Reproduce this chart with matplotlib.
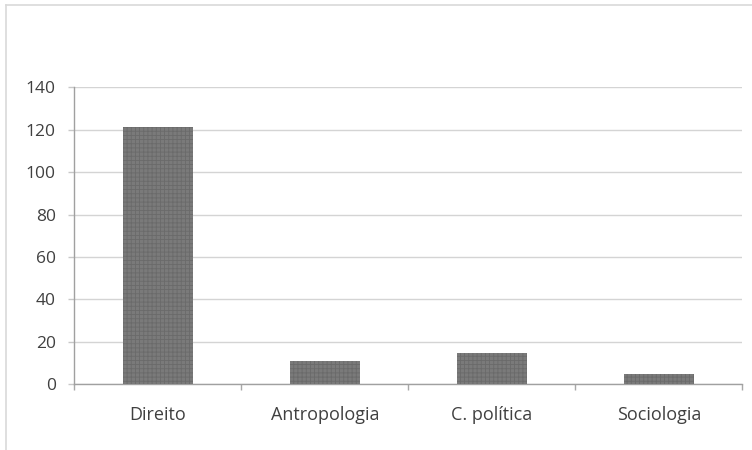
import matplotlib
matplotlib.use("Agg")
import matplotlib.pyplot as plt
from matplotlib.lines import Line2D

categories = ["Direito", "Antropologia", "C. política", "Sociologia"]
values = [121, 11, 15, 5]
yticks = [0, 20, 40, 60, 80, 100, 120, 140]

plt.rcParams["font.family"] = ["Open Sans", "DejaVu Sans"]
plt.rcParams["hatch.color"] = "#5c5c5c"
plt.rcParams["hatch.linewidth"] = 0.6

fig = plt.figure(figsize=(7.52, 4.5), dpi=100)
ax = fig.add_axes([0.099, 0.1456, 0.888, 0.661])

x = list(range(len(categories)))
ax.bar(x, values, width=0.42, color="#7a7a7a", hatch="++++",
       edgecolor="#6a6a6a", linewidth=0, zorder=3)

ax.set_xlim(-0.5, len(categories) - 0.5)
ax.set_ylim(0, 140)
ax.set_yticks(yticks)
ax.set_yticklabels([str(v) for v in yticks])
ax.yaxis.grid(True, color="#d4d4d4", linewidth=1.0, zorder=0)

# category labels centred, tick marks on the category boundaries
ax.set_xticks(x)
ax.set_xticklabels(categories)
ax.tick_params(axis="x", which="major", length=0, pad=15.5, labelsize=13)
ax.set_xticks([i - 0.5 for i in range(len(categories) + 1)], minor=True)
ax.tick_params(axis="x", which="minor", length=4.5, color="#a8a8a8", width=1)
ax.tick_params(axis="y", length=4.5, color="#c8c8c8", width=1, pad=9,
               labelsize=12.5)
ax.tick_params(axis="both", labelcolor="#404040")

for side in ("top", "right"):
    ax.spines[side].set_visible(False)
for side in ("left", "bottom"):
    ax.spines[side].set_color("#a0a0a0")
    ax.spines[side].set_linestyle((0, (1.5, 1)))
    ax.spines[side].set_linewidth(1.0)

# outer chart frame
fig.add_artist(Line2D([6 / 752, 6 / 752], [0, 1 - 4.5 / 450],
                      transform=fig.transFigure, color="#d9d9d9", linewidth=1.2))
fig.add_artist(Line2D([6 / 752, 1], [1 - 4.5 / 450, 1 - 4.5 / 450],
                      transform=fig.transFigure, color="#d9d9d9", linewidth=1.2))

fig.savefig("out.png", dpi=100, facecolor="white")
